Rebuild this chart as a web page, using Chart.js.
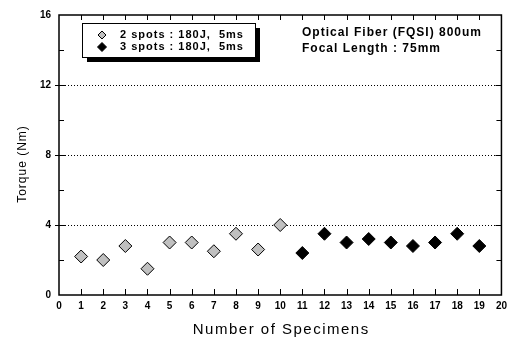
<!DOCTYPE html>
<html>
<head>
<meta charset="utf-8">
<script src="https://cdn.jsdelivr.net/npm/chart.js@4/dist/chart.umd.min.js"></script>
<style>
  html, body { margin: 0; padding: 0; background: #fff; }
  #wrap { width: 512px; height: 338px; }
</style>
</head>
<body>
<div id="wrap"><canvas id="chart" width="512" height="338"></canvas></div>
<script>
// datos
var specimens2 = [1, 2, 3, 4, 5, 6, 7, 8, 9, 10];
var torque2 = [2.2, 2.0, 2.8, 1.5, 3.0, 3.0, 2.5, 3.5, 2.6, 4.0];
var specimens3 = [11, 12, 13, 14, 15, 16, 17, 18, 19];
var torque3 = [2.4, 3.5, 3.0, 3.2, 3.0, 2.8, 3.0, 3.5, 2.8];
var legendLabels = ["2 spots : 180J,  5ms", "3 spots : 180J,  5ms"];
var noteLines = ["Optical Fiber (FQSI) 800um", "Focal Length : 75mm"];
var xTitle = "Number of Specimens";
var yTitle = "Torque (Nm)";
var xTicks = [0, 20, 1];
var yTicks = [0, 16, 4];

function toPoints(xs, ys) {
    var pts = [];
    for (var i = 0; i < xs.length; i++) pts.push({ x: xs[i], y: ys[i] });
    return pts;
}

var font = "'Liberation Sans', Arial, sans-serif";

// marco, marcas interiores, leyenda y textos
var decor = {
    id: 'decor',
    afterDatasetsDraw: function (chart) {
        var ctx = chart.ctx, a = chart.chartArea;
        var sx = chart.scales.x, sy = chart.scales.y;
        ctx.save();
        ctx.strokeStyle = '#000';
        ctx.lineWidth = 1.5;
        ctx.strokeRect(a.left, a.top, a.right - a.left, a.bottom - a.top);
        ctx.lineWidth = 1;
        ctx.beginPath();
        for (var v = xTicks[0] + 1; v < xTicks[1]; v++) {
            var px = Math.round(sx.getPixelForValue(v)) + 0.5;
            ctx.moveTo(px, a.bottom); ctx.lineTo(px, a.bottom - 6);
            ctx.moveTo(px, a.top); ctx.lineTo(px, a.top + 5);
        }
        for (var w = 2; w < yTicks[1]; w += 2) {
            var py = Math.round(sy.getPixelForValue(w)) + 0.5;
            var len = (w % 4 === 0) ? 6 : 5;
            ctx.moveTo(a.left, py); ctx.lineTo(a.left + len, py);
            ctx.moveTo(a.right, py); ctx.lineTo(a.right - len, py);
            if (w % 4 === 0) { ctx.moveTo(a.left - 4, py); ctx.lineTo(a.left, py); }
        }
        ctx.stroke();

        // leyenda con sombra
        var bx = 82, by = 23, bw = 173, bh = 34;
        ctx.fillStyle = '#000';
        ctx.fillRect(bx + 5, by + 5, bw, bh);
        ctx.fillStyle = '#fff';
        ctx.fillRect(bx, by, bw, bh);
        ctx.lineWidth = 1;
        ctx.strokeRect(bx + 0.5, by + 0.5, bw, bh);
        var styles = [['#c0c0c0', '#000', 4], ['#000', '#000', 4.5]];
        ctx.font = 'bold 11px ' + font;
        ctx.letterSpacing = '1px';
        ctx.textBaseline = 'middle';
        for (var i = 0; i < 2; i++) {
            var cy = by + 12 + i * 12, cx = bx + 20, r = styles[i][2];
            ctx.beginPath();
            ctx.moveTo(cx, cy - r); ctx.lineTo(cx + r, cy); ctx.lineTo(cx, cy + r); ctx.lineTo(cx - r, cy); ctx.closePath();
            ctx.fillStyle = styles[i][0]; ctx.fill();
            ctx.strokeStyle = styles[i][1]; ctx.stroke();
            ctx.fillStyle = '#000';
            ctx.fillText(legendLabels[i], bx + 38, cy);
        }
        ctx.font = 'bold 12px ' + font;
        ctx.fillText(noteLines[0], 302, 33);
        ctx.fillText(noteLines[1], 302, 49);

        // titulos de ejes
        ctx.font = '15px ' + font;
        ctx.letterSpacing = '1.5px';
        ctx.textAlign = 'center';
        ctx.textBaseline = 'alphabetic';
        ctx.fillText(xTitle, (a.left + a.right) / 2 + 1, 334);
        ctx.font = '12px ' + font;
        ctx.letterSpacing = '1px';
        ctx.translate(26, 164);
        ctx.rotate(-Math.PI / 2);
        ctx.fillText(yTitle, 0, 0);
        ctx.restore();
    }
};

new Chart(document.getElementById('chart'), {
    type: 'scatter',
    data: {
        datasets: [{
            label: legendLabels[0],
            data: toPoints(specimens2, torque2),
            pointStyle: 'rectRot',
            pointRadius: 6.5,
            backgroundColor: '#c0c0c0',
            borderColor: '#000',
            borderWidth: 1
        }, {
            label: legendLabels[1],
            data: toPoints(specimens3, torque3),
            pointStyle: 'rectRot',
            pointRadius: 6.5,
            backgroundColor: '#000',
            borderColor: '#000',
            borderWidth: 1
        }]
    },
    options: {
        responsive: false,
        animation: false,
        layout: { padding: { top: 15, right: 8, left: 0, bottom: 0 } },
        plugins: { legend: { display: false }, tooltip: { enabled: false } },
        scales: {
            x: {
                min: xTicks[0], max: xTicks[1],
                afterFit: function (s) { s.height = 43; },
                ticks: { stepSize: xTicks[2], color: '#000', font: { family: font, size: 10, weight: 'bold' }, padding: 5, maxRotation: 0, autoSkip: false },
                grid: { display: false, drawTicks: false },
                border: { display: false }
            },
            y: {
                min: yTicks[0], max: yTicks[1],
                afterFit: function (s) { s.width = 59; },
                ticks: { stepSize: yTicks[2], color: '#000', font: { family: font, size: 10, weight: 'bold' }, padding: 8 },
                grid: {
                    drawTicks: false,
                    color: function (c) { return (c.tick && c.tick.value > yTicks[0] && c.tick.value < yTicks[1]) ? '#000' : 'rgba(0,0,0,0)'; },
                    lineWidth: 1
                },
                border: { display: false, dash: [1, 2] }
            }
        }
    },
    plugins: [decor]
});
</script>
</body>
</html>
